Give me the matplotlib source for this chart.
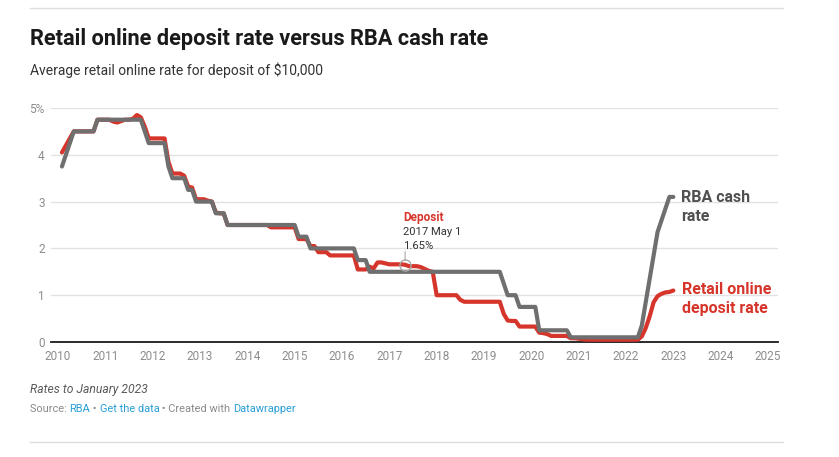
import numpy as np
import pandas as pd
import matplotlib
matplotlib.use("Agg")
import matplotlib.pyplot as plt

plt.rcParams['font.family'] = ['Roboto', 'DejaVu Sans']

# monthly values, first of month, Feb 2010 .. Jan 2023
months = pd.date_range("2010-02-01", "2023-01-01", freq="MS")

cash_rate = (
    [3.75, 4.0, 4.25, 4.5, 4.5, 4.5, 4.5, 4.5, 4.5, 4.75, 4.75]            # 2010 (Feb-Dec)
    + [4.75] * 10 + [4.5, 4.25]                                              # 2011
    + [4.25] * 4 + [3.75] + [3.5] * 4 + [3.25, 3.25, 3.0]                    # 2012
    + [3.0] * 4 + [2.75] * 3 + [2.5] * 5                                     # 2013
    + [2.5] * 12                                                             # 2014
    + [2.5] + [2.25] * 3 + [2.0] * 8                                         # 2015
    + [2.0] * 4 + [1.75] * 3 + [1.5] * 5                                     # 2016
    + [1.5] * 12                                                             # 2017
    + [1.5] * 12                                                             # 2018
    + [1.5] * 5 + [1.25] + [1.0] * 3 + [0.75] * 3                            # 2019
    + [0.75] * 2 + [0.25] * 8 + [0.1] * 2                                    # 2020
    + [0.1] * 12                                                             # 2021
    + [0.1] * 4 + [0.35, 0.85, 1.35, 1.85, 2.35, 2.6, 2.85, 3.1]             # 2022
    + [3.1]                                                                  # 2023
)

deposit_rate = (
    [4.05, 4.2, 4.35, 4.5, 4.5, 4.5, 4.5, 4.5, 4.5, 4.75, 4.75]
    + [4.75, 4.75, 4.71, 4.69, 4.72, 4.75, 4.75, 4.77, 4.85, 4.8, 4.6, 4.35]
    + [4.35, 4.35, 4.35, 4.35, 3.85, 3.6, 3.6, 3.6, 3.55, 3.32, 3.3, 3.05]
    + [3.05, 3.05, 3.02, 3.0, 2.77, 2.75, 2.75, 2.5, 2.5, 2.5, 2.5, 2.5]
    + [2.5] * 6 + [2.45] * 6
    + [2.45, 2.2, 2.2, 2.2, 2.05, 2.05, 1.92, 1.92, 1.92, 1.85, 1.85, 1.85]
    + [1.85, 1.85, 1.85, 1.85, 1.55, 1.55, 1.55, 1.61, 1.57, 1.7, 1.7, 1.68]
    + [1.66, 1.66, 1.66, 1.66, 1.65, 1.62, 1.62, 1.62, 1.6, 1.56, 1.52, 1.5]
    + [1.0] * 6 + [0.9] + [0.86] * 5
    + [0.86] * 5 + [0.6, 0.46, 0.45, 0.45, 0.33, 0.33, 0.33]
    + [0.33, 0.33, 0.2, 0.19, 0.17, 0.13, 0.13, 0.13, 0.13, 0.13, 0.08, 0.08]
    + [0.07, 0.06] + [0.05] * 10
    + [0.05] * 4 + [0.12, 0.3, 0.55, 0.85, 0.98, 1.03, 1.06, 1.07]
    + [1.1]
)

year_ticks = list(range(2010, 2026))
y_ticks = [0, 1, 2, 3, 4, 5]
y_tick_labels = ["0", "1", "2", "3", "4", "5%"]

note_month = pd.Timestamp("2017-05-01")
note_value = 1.65

RED = "#d6352b"
GREY = "#6f6f6f"

t = months.year + (months.month - 1) / 12.0
note_t = note_month.year + (note_month.month - 1) / 12.0

W, H = 839, 457
fig = plt.figure(figsize=(W / 100, H / 100), dpi=100)


def px(x, y):
    return x / W, 1 - y / H


ax = fig.add_axes([51 / W, 115 / H, 727 / W, 234 / H])
ax.set_xlim(2009.852, 2025.211)
ax.set_ylim(0, 5)

ax.plot(t, deposit_rate, color=RED, lw=3, solid_capstyle="round",
        solid_joinstyle="round", zorder=3)
ax.plot(t, cash_rate, color=GREY, lw=3, solid_capstyle="round",
        solid_joinstyle="round", zorder=4)

ax.set_yticks(y_ticks)
ax.set_yticklabels(y_tick_labels)
ax.set_xticks(year_ticks)
ax.set_xticklabels([str(y) for y in year_ticks])
ax.yaxis.grid(True, color="#e2e2e2", lw=1)
ax.set_axisbelow(True)
ax.tick_params(axis="both", length=0, labelsize=8.5, labelcolor="#8c8c8c")
ax.tick_params(axis="y", pad=4.5)
ax.tick_params(axis="x", pad=6)
for side in ["left", "right", "top"]:
    ax.spines[side].set_visible(False)
ax.spines["bottom"].set_color("#1a1a1a")
ax.spines["bottom"].set_linewidth(1.3)

# hover-style annotation
ax.plot([note_t], [note_value], "o", mfc="none", mec="#a8a8a8", ms=8,
        mew=1, zorder=5)
ax.annotate("", xy=(note_t, note_value), xytext=(0, 9.5),
            textcoords="offset points",
            arrowprops=dict(arrowstyle="-", color="#a8a8a8", lw=0.8,
                            shrinkA=0, shrinkB=3))
ax.annotate("Deposit", xy=(note_t, note_value), xytext=(-1.7, 33.8),
            textcoords="offset points", ha="left", va="center",
            fontsize=8.5, fontweight="bold", color=RED)
ax.annotate("2017 May 1", xy=(note_t, note_value), xytext=(-1.7, 23.8),
            textcoords="offset points", ha="left", va="center",
            fontsize=8.1, color="#333333")
ax.annotate("1.65%", xy=(note_t, note_value), xytext=(-1.7, 13.7),
            textcoords="offset points", ha="left", va="center",
            fontsize=8.1, color="#333333")

# end labels
ax.annotate("RBA cash\nrate", xy=(t[-1], cash_rate[-1]), xytext=(5.8, -7.2),
            textcoords="offset points", ha="left", va="center",
            fontsize=11.5, fontweight="bold", color="#505050",
            linespacing=1.28)
ax.annotate("Retail online\ndeposit rate", xy=(t[-1], deposit_rate[-1]),
            xytext=(6.2, -6.1), textcoords="offset points", ha="left",
            va="center", fontsize=11.5, fontweight="bold", color=RED,
            linespacing=1.28)

# header
fig.add_artist(plt.Line2D([30 / W, 783 / W], [1 - 7.5 / H] * 2,
                          color="#dddddd", lw=1))
fig.text(*px(30, 39), "Retail online deposit rate versus RBA cash rate",
         fontsize=15.7, fontweight="bold", color="#1a1a1a", va="center")
fig.text(*px(30, 70), "Average retail online rate for deposit of $10,000",
         fontsize=10, color="#333333", va="center")

# footer
fig.text(*px(30, 390), "Rates to January 2023", fontsize=8.7,
         style="italic", color="#5a5a5a", va="center")

parts = [("Source: ", "#8a8a8a"), ("RBA", "#2a9fd6"), (" \u2022 ", "#8a8a8a"),
         ("Get the data", "#2a9fd6"), (" \u2022 Created with ", "#8a8a8a"),
         ("Datawrapper", "#2a9fd6")]
renderer = fig.canvas.get_renderer()
x = 30
for s, c in parts:
    txt = fig.text(*px(x, 408.5), s, fontsize=7.9, color=c, va="center")
    bb = txt.get_window_extent(renderer=renderer)
    x += bb.width

fig.add_artist(plt.Line2D([30 / W, 783 / W], [1 - 441.5 / H] * 2,
                          color="#dddddd", lw=1))

fig.savefig("out.png", dpi=100)
